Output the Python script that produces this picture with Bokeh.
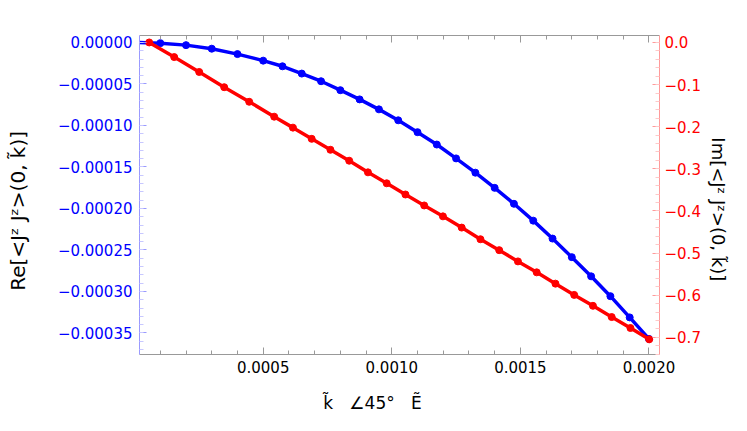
import numpy as np
from bokeh.plotting import figure
from bokeh.models import Range1d, LinearAxis, FixedTicker
from bokeh.embed import file_html
from bokeh.resources import INLINE

# ---- data ----
k_values = [0.0, 0.0001, 0.0002, 0.0003, 0.0004, 0.0005,
            0.000575, 0.00065, 0.000725, 0.0008, 0.000875, 0.00095,
            0.001025, 0.0011, 0.001175, 0.00125, 0.001325, 0.0014,
            0.001475, 0.00155, 0.001625, 0.0017, 0.001775, 0.00185,
            0.001925, 0.002]

re_values = [0.0, -0.0000008, -0.0000032, -0.0000075, -0.0000140, -0.0000219,
             -0.0000287, -0.0000375, -0.0000467, -0.0000575, -0.0000686, -0.0000806,
             -0.0000938, -0.0001081, -0.0001230, -0.0001397, -0.0001569, -0.0001752,
             -0.0001944, -0.0002147, -0.0002363, -0.0002587, -0.0002818, -0.0003057,
             -0.0003313, -0.0003572]

im_values = [0.0, -0.0347, -0.0701, -0.1062, -0.1408, -0.1762,
             -0.2022, -0.2288, -0.2548, -0.2807, -0.3083, -0.3343,
             -0.3609, -0.3869, -0.4128, -0.4395, -0.4671, -0.4930,
             -0.5197, -0.5457, -0.5725, -0.5992, -0.6251, -0.6518,
             -0.6778, -0.7047]

x_ticks = [0.0005, 0.0010, 0.0015, 0.0020]
x_tick_labels = ["0.0005", "0.0010", "0.0015", "0.0020"]

re_ticks = [0.0, -0.00005, -0.0001, -0.00015, -0.0002, -0.00025, -0.0003, -0.00035]
re_tick_labels = ["0.00000", "\u22120.00005", "\u22120.00010", "\u22120.00015",
                  "\u22120.00020", "\u22120.00025", "\u22120.00030", "\u22120.00035"]

im_ticks = [0.0, -0.1, -0.2, -0.3, -0.4, -0.5, -0.6, -0.7]
im_tick_labels = ["0.0", "\u22120.1", "\u22120.2", "\u22120.3",
                  "\u22120.4", "\u22120.5", "\u22120.6", "\u22120.7"]

NBSP = "\u00a0"
re_label = "Re[<J\u1dbb J\u1dbb>(0, k\u0303)]"
im_label = "Im[<J\u1dbb J\u1dbb>(0, k\u0303)]"
x_label = "k\u0303" + NBSP * 3 + "\u222045\u00b0" + NBSP * 3 + "E\u0303"

# ---- figure ----
p = figure(width=731, height=415,
           x_range=Range1d(0.0000191, 0.0020409),
           y_range=Range1d(-0.000376, 0.0000084),
           output_backend="svg", toolbar_location=None,
           x_axis_location=None, y_axis_location=None,
           min_border_left=139, min_border_right=72,
           min_border_top=35, min_border_bottom=59)
p.extra_x_ranges = {"im_x": Range1d(-0.0000388, 0.0020412)}
p.extra_y_ranges = {"im": Range1d(-0.7407, 0.0165)}
p.outline_line_color = None
p.background_fill_color = "white"
p.border_fill_color = "white"
p.grid.visible = False

BLUE = "#0000ff"
RED = "#ff0000"

p.line(k_values, re_values, line_color=BLUE, line_width=3.5)
p.scatter(k_values, re_values, size=7, fill_color=BLUE, line_color=BLUE)
p.line(k_values, im_values, line_color=RED, line_width=3.5,
       x_range_name="im_x", y_range_name="im")
p.scatter(k_values, im_values, size=7, fill_color=RED, line_color=RED,
          x_range_name="im_x", y_range_name="im")

def style(ax, line_col, minor_col, label_col):
    ax.axis_line_color = line_col
    ax.major_tick_line_color = line_col
    ax.minor_tick_line_color = minor_col
    ax.major_tick_in = 7
    ax.major_tick_out = 0
    ax.minor_tick_in = 4
    ax.minor_tick_out = 0
    ax.major_label_text_color = label_col
    ax.major_label_text_font = "DejaVu Sans"
    ax.major_label_text_font_size = "15px"
    ax.axis_label_text_font = "DejaVu Sans"
    ax.axis_label_text_font_style = "normal"
    ax.axis_label_text_color = "black"

x_minor = list(np.round(np.arange(1, 21) * 0.0001, 6))
re_minor = list(np.round(-np.arange(0, 38) * 0.00001, 7))
im_minor = list(np.round(-np.arange(0, 38) * 0.02, 4))

bottom = LinearAxis(ticker=FixedTicker(ticks=x_ticks, minor_ticks=x_minor),
                    major_label_overrides=dict(zip(x_ticks, x_tick_labels)),
                    axis_label=x_label + NBSP * 10)
style(bottom, "#999999", "#999999", "black")
bottom.major_label_standoff = 6
bottom.axis_label_standoff = 17
bottom.axis_label_text_font_size = "17px"
p.add_layout(bottom, "below")

top = LinearAxis(ticker=FixedTicker(ticks=x_ticks, minor_ticks=x_minor))
style(top, "#999999", "#999999", None)
top.major_label_standoff = 0
p.add_layout(top, "above")

left = LinearAxis(ticker=FixedTicker(ticks=re_ticks, minor_ticks=re_minor),
                  major_label_overrides=dict(zip(re_ticks, re_tick_labels)),
                  axis_label=re_label + NBSP * 5)
style(left, "#9a9aff", "#c8c8ff", BLUE)
left.major_label_standoff = 7
left.axis_label_standoff = 25
left.axis_label_text_font_size = "20px"
p.add_layout(left, "left")

right = LinearAxis(y_range_name="im",
                   ticker=FixedTicker(ticks=im_ticks, minor_ticks=im_minor),
                   major_label_overrides=dict(zip(im_ticks, im_tick_labels)),
                   axis_label=NBSP * 5 + im_label)
style(right, "#ff9a9a", "#ffc8c8", RED)
right.major_label_standoff = 5
right.axis_label_standoff = 4
right.axis_label_text_font_size = "18px"
right.axis_label_text_line_height = 0.8
p.add_layout(right, "right")

open("out.html", "w").write(file_html(p, INLINE))
